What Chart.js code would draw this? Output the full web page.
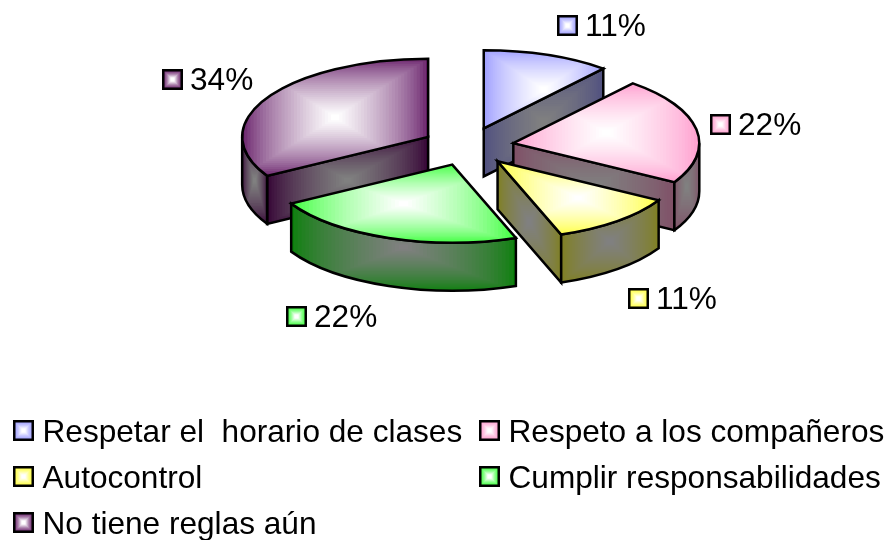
<!DOCTYPE html>
<html><head><meta charset="utf-8">
<style>html,body{margin:0;padding:0;background:#fff}canvas{display:block}</style>
<script src="https://cdn.jsdelivr.net/npm/chart.js@4/dist/chart.umd.min.js"></script>
</head><body><canvas id="c" width="888" height="540"></canvas>
<script>
const categories = ['Respetar el  horario de clases','Respeto a los compañeros','Autocontrol','Cumplir responsabilidades','No tiene reglas aún'];
const values = [11.1,22.2,11.1,22.2,33.3];
const percentLabels = ['11%','22%','11%','22%','34%'];
const topColors = ['#9999FF','#FF99CC','#FFFF33','#33FF33','#641A66'];
const wallColors = ['#4D4D80','#804D66','#80801A','#0A800A','#330033'];

const SQUASH = 78/186, DEPTH = 48, EXPLODE = 46, FONT = '31.6px "Liberation Sans", Arial, sans-serif';
const paintOrder = [0,4,1,2,3];
const labelSpots = [[557,15],[710,114],[628,288],[286,306],[162,69]];
const legendSpots = [[13,420],[479,420],[13,466],[479,466],[13,512]];

function rgb(h){return [1,3,5].map(i=>parseInt(h.substr(i,2),16));}
function pathGradient(ctx,b,edge,centre,steps,gamma){
  const e=rgb(edge),c=rgb(centre),mx=(b.x0+b.x1)/2,my=(b.y0+b.y1)/2;
  for(let i=0;i<steps;i++){
    const t=Math.pow(i/(steps-1),gamma),k=i/steps;
    ctx.fillStyle='rgb('+e.map((v,j)=>Math.round(v+(c[j]-v)*t)).join(',')+')';
    const x0=b.x0+(mx-b.x0)*k-1,y0=b.y0+(my-b.y0)*k-1;
    ctx.fillRect(x0,y0,(mx-x0)*2,(my-y0)*2);
  }
}
function face(ctx,build,b,edge,centre){
  ctx.save();ctx.beginPath();build();ctx.closePath();ctx.clip();
  pathGradient(ctx,b,edge,centre,30,0.7);ctx.restore();
  ctx.beginPath();build();ctx.closePath();ctx.stroke();
}
const piePlugin = {
  id:'pie3d',
  beforeDatasetsDraw(chart){
    const ctx=chart.ctx, arcs=chart.getDatasetMeta(0).data;
    ctx.lineWidth=2.5;ctx.strokeStyle='#000';ctx.lineJoin='miter';
    paintOrder.forEach(i=>{
      const arc=arcs[i],a0=arc.startAngle,a1=arc.endAngle,mid=(a0+a1)/2;
      const dx=Math.cos(mid)*EXPLODE,dy=Math.sin(mid)*EXPLODE,r=arc.outerRadius,ry=r*SQUASH;
      const ax=arc.x+dx, ay=arc.y+dy*SQUASH;
      const pt=a=>[ax+r*Math.cos(a),ay+ry*Math.sin(a)];
      const edgeWall=a=>{
        const p=pt(a);
        face(ctx,()=>{ctx.moveTo(ax,ay);ctx.lineTo(p[0],p[1]);ctx.lineTo(p[0],p[1]+DEPTH);ctx.lineTo(ax,ay+DEPTH);},
          {x0:Math.min(ax,p[0]),x1:Math.max(ax,p[0]),y0:Math.min(ay,p[1]),y1:Math.max(ay,p[1])+DEPTH},wallColors[i],'#808080');
      };
      if(Math.cos(a1)>1e-6) edgeWall(a1);
      if(Math.cos(a0)<-1e-6) edgeWall(a0);
      const lo=Math.max(a0,0),hi=Math.min(a1,Math.PI);
      if(lo<hi){
        const p=pt(lo),q=pt(hi);
        const ymax=(lo<=Math.PI/2&&hi>=Math.PI/2)?ay+ry:Math.max(p[1],q[1]);
        face(ctx,()=>{ctx.ellipse(ax,ay,r,ry,0,lo,hi);ctx.lineTo(q[0],q[1]+DEPTH);ctx.ellipse(ax,ay+DEPTH,r,ry,0,hi,lo,true);},
          {x0:Math.min(p[0],q[0]),x1:Math.max(p[0],q[0]),y0:Math.min(p[1],q[1]),y1:ymax+DEPTH},wallColors[i],'#808080');
      }
      // the slice itself, pulled out and squashed onto the tilted plane
      ctx.save();
      ctx.translate(dx,dy*SQUASH);
      ctx.translate(0,arc.y);ctx.scale(1,SQUASH);ctx.translate(0,-arc.y);
      arc.draw(ctx,chart.chartArea);
      ctx.restore();
      // top surface gradient and outline
      const xs=[ax],ys=[ay];
      [a0,a1].forEach(a=>{const p=pt(a);xs.push(p[0]);ys.push(p[1]);});
      for(let k=-1;k<=3;k++){const a=k*Math.PI/2;if(a>=a0-1e-9&&a<=a1+1e-9){const p=pt(a);xs.push(p[0]);ys.push(p[1]);}}
      face(ctx,()=>{ctx.moveTo(ax,ay);ctx.ellipse(ax,ay,r,ry,0,a0,a1);},
        {x0:Math.min(...xs),x1:Math.max(...xs),y0:Math.min(...ys),y1:Math.max(...ys)},topColors[i],'#FFFFFF');
    });
    return false;
  },
  afterDraw(chart){
    const ctx=chart.ctx;
    const swatch=(x,y,i)=>{
      pathGradient(ctx,{x0:x+1,y0:y+1,x1:x+20,y1:y+20},topColors[i],'#FFFFFF',8,1.3);
      ctx.lineWidth=2.5;ctx.strokeStyle='#000';ctx.strokeRect(x+1.25,y+1.25,18.5,18.5);
    };
    ctx.font=FONT;ctx.textBaseline='alphabetic';ctx.textAlign='left';
    percentLabels.forEach((t,i)=>{
      const [x,y]=labelSpots[i];
      swatch(x,y,i);ctx.fillStyle='#000';ctx.fillText(t,x+28,y+21);
    });
    categories.forEach((c,i)=>{
      const [x,y]=legendSpots[i];
      swatch(x,y,i);ctx.fillStyle='#000';ctx.fillText(c,x+29.5,y+22);
    });
  }
};
new Chart(document.getElementById('c'),{
  type:'pie',
  data:{labels:categories,datasets:[{data:values,backgroundColor:topColors,borderWidth:0,hoverOffset:0}]},
  options:{
    responsive:false,animation:false,events:[],radius:186,
    layout:{padding:{left:48,top:0,right:0,bottom:247}},
    plugins:{legend:{display:false},tooltip:{enabled:false}}
  },
  plugins:[piePlugin]
});
</script></body></html>
